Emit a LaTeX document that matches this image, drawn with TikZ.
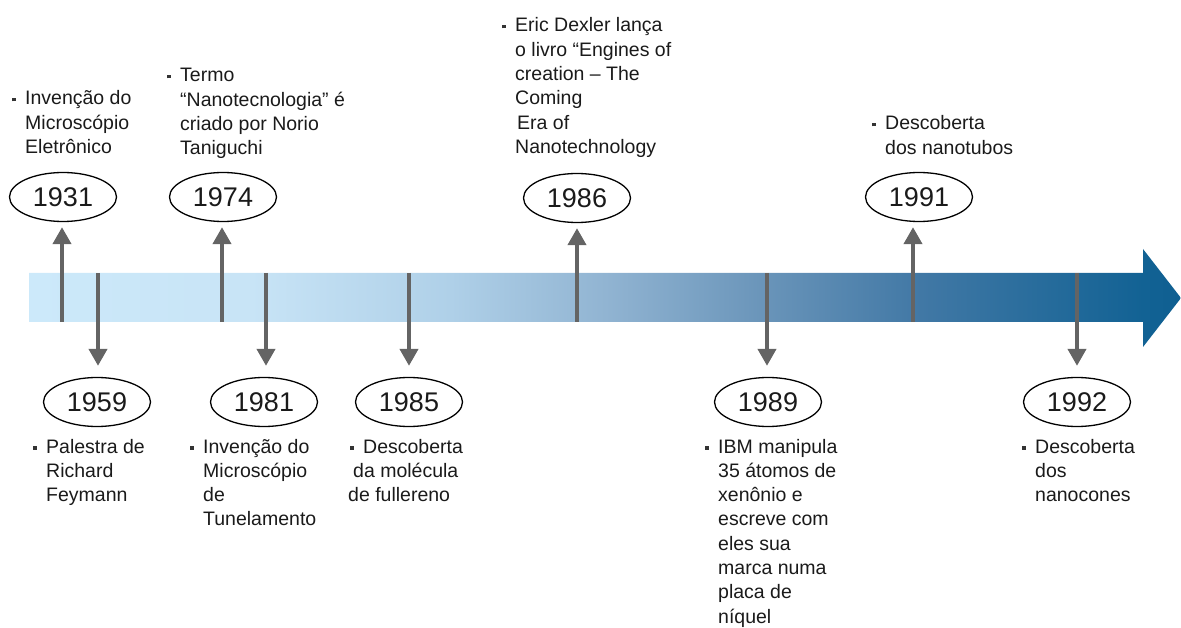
\documentclass[tikz,border=0pt]{standalone}
\usepackage{fontspec}
\setmainfont{Liberation Sans}
\usetikzlibrary{shapes.geometric,arrows.meta}
\definecolor{txt}{HTML}{1A1A1A}
\definecolor{gr}{HTML}{646464}
\definecolor{bulc}{HTML}{333333}
\definecolor{bA}{RGB}{204,233,250}
\definecolor{bB}{RGB}{200,228,246}
\definecolor{bC}{RGB}{175,208,232}
\definecolor{bD}{RGB}{145,180,210}
\definecolor{bE}{RGB}{105,148,185}
\definecolor{bF}{RGB}{65,120,165}
\definecolor{bG}{RGB}{18,98,148}
\definecolor{bH}{RGB}{15,95,145}
\pgfdeclarehorizontalshading{bandshade}{100bp}{color(0bp)=(bA); color(25bp)=(bA); color(34.6bp)=(bB); color(43.3bp)=(bC); color(50bp)=(bD); color(57bp)=(bE); color(63.7bp)=(bF); color(73.35bp)=(bG); color(75bp)=(bH); color(100bp)=(bH)}
\newcommand\tlbul{\makebox[13pt][l]{\textcolor{bulc}{\rule[3.5pt]{3.8pt}{3.8pt}}}}
\newcommand\tlind{\hspace*{13pt}}
\tikzset{
  yearnode/.style={ellipse, draw=black, line width=1.3pt, minimum width=107pt, minimum height=49pt, inner sep=0pt, text=txt, font=\fontsize{27}{31}\selectfont},
  evtext/.style={anchor=base west, inner sep=0pt, text=txt, font=\fontsize{19.5}{24.3}\selectfont},
  uparr/.style={draw=gr, line width=4pt, -{Triangle[length=17pt,width=18pt]}, shorten >=5pt},
  downarr/.style={draw=gr, line width=4pt, -{Triangle[length=17pt,width=18pt]}, shorten >=11pt}
}
\newcommand\evlines[1]{\begin{tabular}[t]{@{}l@{}}#1\end{tabular}}
\begin{document}
\begin{tikzpicture}[x=1pt,y=-1pt]
\useasboundingbox (0,0) rectangle (1181,628);
% timeline band
\path[shading=bandshade] (29,273) -- (1143,273) -- (1143,249) -- (1181,298) -- (1143,347) -- (1143,322) -- (29,322) -- cycle;

% band coordinates
\coordinate (c1931) at (62,322);
\coordinate (c1974) at (222,322);
\coordinate (c1986) at (577,322);
\coordinate (c1991) at (913,322);
\coordinate (c1959) at (98,273);
\coordinate (c1981) at (266,273);
\coordinate (c1985) at (409,273);
\coordinate (c1989) at (767,273);
\coordinate (c1992) at (1077,273);

% year ellipses
\node[yearnode] (y1931) at (63,197) {1931};
\node[yearnode] (y1974) at (223,197) {1974};
\node[yearnode] (y1986) at (577,198) {1986};
\node[yearnode] (y1991) at (919,197) {1991};
\node[yearnode] (y1959) at (97,402) {1959};
\node[yearnode] (y1981) at (264,402) {1981};
\node[yearnode] (y1985) at (409,402) {1985};
\node[yearnode] (y1989) at (768,402) {1989};
\node[yearnode] (y1992) at (1077,402) {1992};

% connectors
\draw[uparr] (c1931) -- (c1931 |- y1931.south);
\draw[uparr] (c1974) -- (c1974 |- y1974.south);
\draw[uparr] (c1986) -- (c1986 |- y1986.south);
\draw[uparr] (c1991) -- (c1991 |- y1991.south);
\draw[downarr] (c1959) -- (c1959 |- y1959.north);
\draw[downarr] (c1981) -- (c1981 |- y1981.north);
\draw[downarr] (c1985) -- (c1985 |- y1985.north);
\draw[downarr] (c1989) -- (c1989 |- y1989.north);
\draw[downarr] (c1992) -- (c1992 |- y1992.north);

% event texts
\node[evtext] (t1931) at (12,105) {\evlines{\tlbul Invenção do\\ \tlind Microscópio\\ \tlind Eletrônico}};
\node[evtext] (t1974) at (167,82) {\evlines{\tlbul Termo\\ \tlind “Nanotecnologia” é\\ \tlind criado por Norio\\ \tlind Taniguchi}};
\node[evtext] (t1986) at (502,32) {\evlines{\tlbul Eric Dexler lança\\ \tlind o livro “Engines of\\ \tlind creation – The\\ \tlind Coming\\ \tlind\hspace*{2pt}Era of\\ \tlind Nanotechnology}};
\node[evtext] (t1991) at (872,130) {\evlines{\tlbul Descoberta\\ \tlind dos nanotubos}};
\node[evtext] (t1959) at (33,453) {\evlines{\tlbul Palestra de\\ \tlind Richard\\ \tlind Feymann}};
\node[evtext] (t1981) at (190,453) {\evlines{\tlbul Invenção do\\ \tlind Microscópio\\ \tlind de\\ \tlind Tunelamento}};
\node[evtext] (t1985) at (348,453) {\evlines{\hspace*{2pt}\tlbul Descoberta\\ \hspace*{5pt}da molécula\\ de fullereno}};
\node[evtext] (t1989) at (705,453) {\evlines{\tlbul IBM manipula\\ \tlind 35 átomos de\\ \tlind xenônio e\\ \tlind escreve com\\ \tlind eles sua\\ \tlind marca numa\\ \tlind placa de\\ \tlind níquel}};
\node[evtext] (t1992) at (1022,453) {\evlines{\tlbul Descoberta\\ \tlind dos\\ \tlind nanocones}};
\end{tikzpicture}
\end{document}
